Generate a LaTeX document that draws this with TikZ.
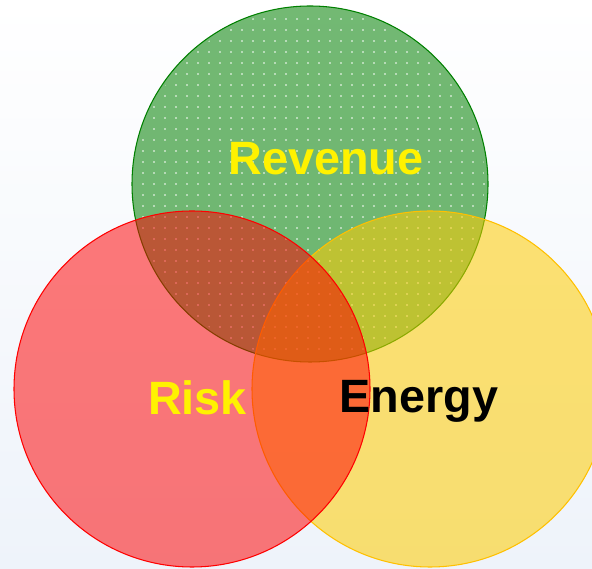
\documentclass[tikz,border=0pt]{standalone}
\usepackage{fontspec}
\setmainfont{Liberation Sans}
\usepackage{tikz}
\usetikzlibrary{patterns.meta}

\definecolor{revgreen}{RGB}{0,128,0}
\definecolor{riskred}{RGB}{255,0,0}
\definecolor{enyellow}{RGB}{255,204,0}
\definecolor{edgeyellow}{RGB}{255,192,0}
\definecolor{bgbottom}{RGB}{238,243,250}

\begin{document}
\begin{tikzpicture}[
    set/.style={line width=0.6pt, fill opacity=0.55},
    setlabel/.style={anchor=base, inner sep=0pt, font=\fontsize{26.6}{30}\selectfont\bfseries}
  ]
    % page and background
    \useasboundingbox (0,0) rectangle (11.84,11.38);
    \shade[top color=white, bottom color=bgbottom] (0,0) rectangle (11.84,11.38);
    \clip (0,0) rectangle (11.84,11.38);

    % the three sets with absolute coordinates
    \coordinate (revenue) at (6.2,7.70);
    \coordinate (energy) at (8.6,3.60);
    \coordinate (risk) at (3.84,3.60);
    \draw[set, draw=revgreen, fill=revgreen] (revenue) circle (3.56);
    \fill[pattern={Dots[radius=0.45pt, distance=0.22cm]}, pattern color=white] (revenue) circle (3.5);
    \draw[set, draw=edgeyellow, fill=enyellow] (energy) circle (3.56);
    \draw[set, fill opacity=0.52, draw=riskred, fill=riskred] (risk) circle (3.56);

    % labels
    \node[setlabel, text=yellow] (rev) at (6.52,7.88) {Revenue};
    \node[setlabel, text=yellow] (rsk) at (3.95,3.08) {Risk};
    \node[setlabel, text=black] (eng) at (8.38,3.12) {Energy};
\end{tikzpicture}
\end{document}
